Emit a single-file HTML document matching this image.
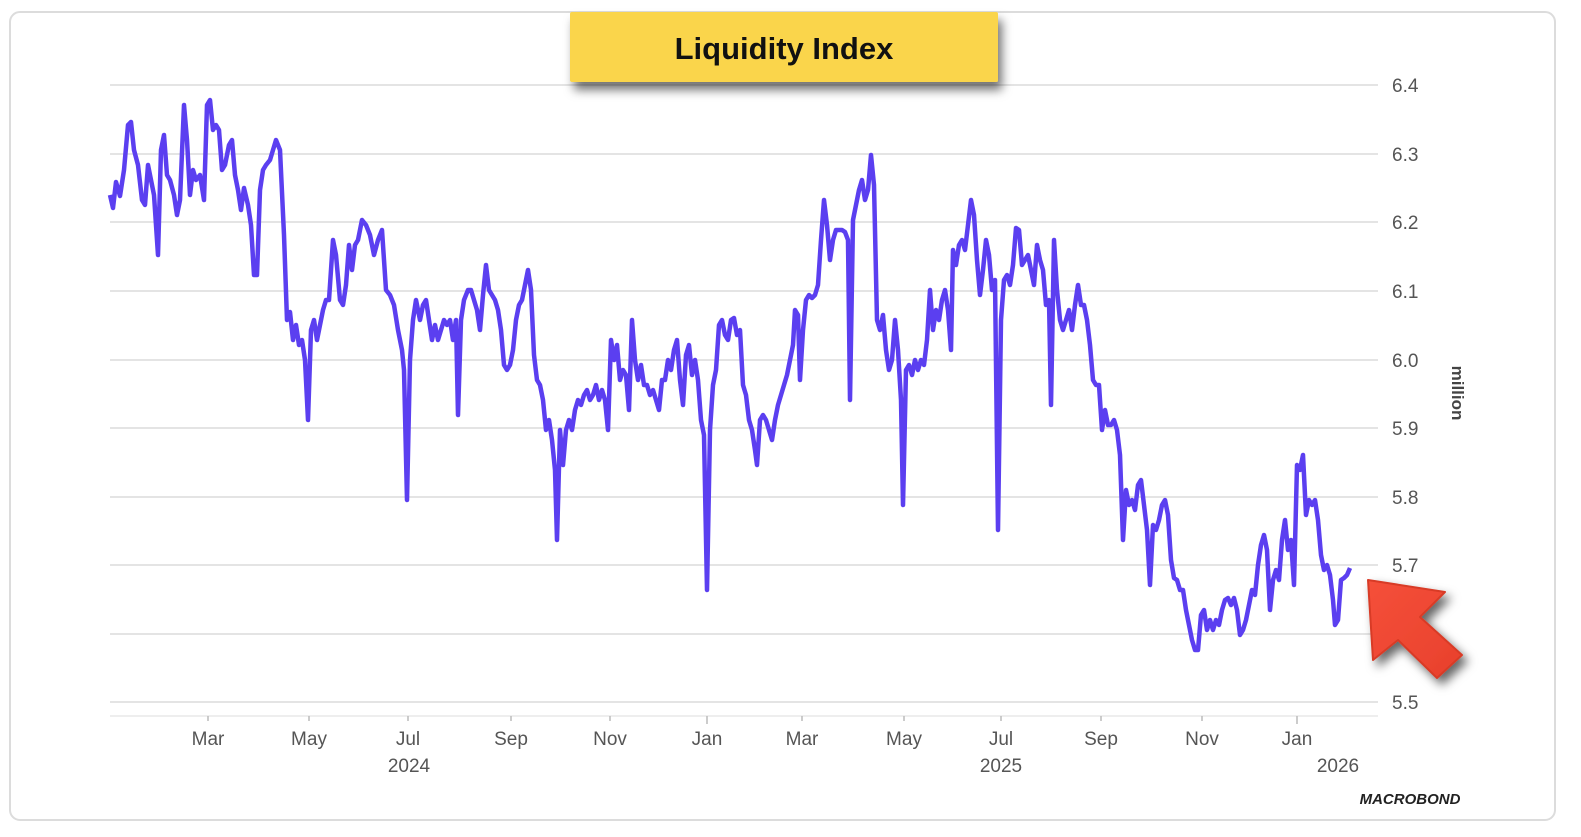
<!DOCTYPE html>
<html><head><meta charset="utf-8"><style>
html,body{margin:0;padding:0;background:#fff;width:1581px;height:837px;overflow:hidden;font-family:"Liberation Sans",sans-serif}
</style></head><body>
<svg width="1581" height="837" viewBox="0 0 1581 837" xmlns="http://www.w3.org/2000/svg">
<defs>
<filter id="sh" x="-20%" y="-20%" width="150%" height="180%"><feDropShadow dx="4" dy="8" stdDeviation="5" flood-color="#000" flood-opacity="0.55"/></filter>
<filter id="sh2" x="-30%" y="-30%" width="170%" height="170%"><feDropShadow dx="5" dy="6" stdDeviation="5" flood-color="#000" flood-opacity="0.6"/></filter>
<linearGradient id="ag" x1="0" y1="0" x2="1" y2="1"><stop offset="0" stop-color="#f5503a"/><stop offset="1" stop-color="#e8402c"/></linearGradient>
</defs>
<rect x="10" y="12" width="1545" height="808" rx="10" fill="#fff" stroke="#dcdcdc" stroke-width="2"/>
<g stroke="#e4e4e4" stroke-width="2">
<line x1="110" y1="85" x2="1378" y2="85"/><line x1="110" y1="154" x2="1378" y2="154"/><line x1="110" y1="222" x2="1378" y2="222"/><line x1="110" y1="291" x2="1378" y2="291"/><line x1="110" y1="360" x2="1378" y2="360"/><line x1="110" y1="428" x2="1378" y2="428"/><line x1="110" y1="497" x2="1378" y2="497"/><line x1="110" y1="565" x2="1378" y2="565"/><line x1="110" y1="634" x2="1378" y2="634"/><line x1="110" y1="702" x2="1378" y2="702"/>
<line x1="110" y1="716" x2="1378" y2="716" stroke="#eee"/>
</g>
<g stroke="#bbb" stroke-width="1.5">
<line x1="208" y1="716" x2="208" y2="721"/><line x1="309" y1="716" x2="309" y2="721"/><line x1="408" y1="716" x2="408" y2="721"/><line x1="511" y1="716" x2="511" y2="721"/><line x1="610" y1="716" x2="610" y2="721"/><line x1="707" y1="716" x2="707" y2="724"/><line x1="802" y1="716" x2="802" y2="721"/><line x1="904" y1="716" x2="904" y2="721"/><line x1="1001" y1="716" x2="1001" y2="721"/><line x1="1101" y1="716" x2="1101" y2="721"/><line x1="1202" y1="716" x2="1202" y2="721"/><line x1="1297" y1="716" x2="1297" y2="724"/>
</g>
<g fill="#555" font-size="19" font-family="Liberation Sans, sans-serif">
<text x="1392" y="92">6.4</text><text x="1392" y="161">6.3</text><text x="1392" y="229">6.2</text><text x="1392" y="298">6.1</text><text x="1392" y="367">6.0</text><text x="1392" y="435">5.9</text><text x="1392" y="504">5.8</text><text x="1392" y="572">5.7</text><text x="1392" y="709">5.5</text>
</g>
<g fill="#555" font-size="19" text-anchor="middle">
<text x="208" y="745">Mar</text><text x="309" y="745">May</text><text x="408" y="745">Jul</text><text x="511" y="745">Sep</text><text x="610" y="745">Nov</text><text x="707" y="745">Jan</text><text x="802" y="745">Mar</text><text x="904" y="745">May</text><text x="1001" y="745">Jul</text><text x="1101" y="745">Sep</text><text x="1202" y="745">Nov</text><text x="1297" y="745">Jan</text>
<text x="409" y="772">2024</text><text x="1001" y="772">2025</text><text x="1338" y="772">2026</text>
</g>
<text transform="translate(1452,393) rotate(90)" text-anchor="middle" fill="#444" font-size="17" font-weight="bold">million</text>
<text x="1410" y="804" text-anchor="middle" fill="#222" font-size="15" font-weight="bold" font-style="italic">MACROBOND</text>
<polyline fill="none" stroke="#5b3ff0" stroke-width="4.5" stroke-linejoin="round" points="110,195 113,208 116,182 120,196 124,170 128,125 131,122 134,150 138,165 142,200 145,205 148,165 151,180 154,195 158,255 161,150 164,135 167,175 170,180 174,195 177,215 180,200 184,105 187,140 190,195 193,170 196,180 200,175 204,200 207,105 210,100 213,130 216,125 219,130 222,170 225,165 229,145 232,140 235,175 238,190 241,210 244,188 248,205 251,225 254,275 257,275 260,190 263,170 266,165 270,160 273,150 276,140 280,150 284,235 287,320 290,312 293,340 296,325 299,345 302,340 305,360 308,420 311,330 314,320 317,340 320,325 323,310 326,300 329,300 333,240 336,255 340,300 343,305 346,285 349,245 352,270 355,245 358,240 362,220 366,225 370,235 374,255 378,240 382,230 386,290 390,295 394,305 398,330 402,350 404,370 407,500 410,360 413,320 416,300 420,320 423,305 426,300 429,320 432,340 435,325 438,340 441,330 444,320 447,325 450,320 453,340 456,320 458,415 461,320 464,300 468,290 471,290 474,300 477,310 480,330 483,295 486,265 489,290 492,295 495,300 498,310 501,330 504,365 507,370 510,365 513,350 516,320 519,305 522,300 525,285 528,270 531,290 534,355 537,380 540,385 543,400 546,430 549,420 552,440 555,470 557,540 560,430 563,465 566,430 569,420 572,430 575,410 578,400 581,405 584,395 587,390 590,400 593,395 596,385 599,400 602,390 605,400 608,430 611,340 614,360 617,345 620,380 623,370 626,375 629,410 632,320 635,360 638,380 641,365 644,385 647,385 650,395 653,390 656,400 659,410 662,380 665,380 668,360 671,370 674,350 677,340 680,380 683,405 686,355 689,345 692,375 695,360 698,380 701,420 704,435 707,590 710,430 713,385 716,370 719,325 722,320 725,335 728,340 731,320 734,318 737,335 740,330 743,385 746,395 749,420 752,430 755,450 757,465 760,420 763,415 766,420 769,430 772,440 775,420 778,405 781,395 784,385 787,375 790,360 793,345 795,310 798,315 800,380 803,330 806,300 809,295 812,298 815,295 818,285 821,240 824,200 827,225 830,260 833,240 836,230 839,230 842,230 845,232 848,240 850,400 853,220 856,205 859,190 862,180 865,200 868,190 871,155 874,185 877,320 880,330 883,315 886,350 889,370 892,360 895,320 898,350 901,400 903,505 906,370 909,365 912,375 915,360 918,370 921,360 924,365 927,340 930,290 933,330 936,310 939,320 942,300 945,290 948,310 951,350 953,250 956,265 959,245 962,240 965,250 968,225 971,200 974,215 977,260 980,295 983,270 986,240 989,255 992,290 995,280 998,530 1001,320 1004,280 1007,275 1010,285 1013,265 1016,228 1019,230 1022,265 1025,260 1028,255 1031,270 1034,285 1037,245 1040,260 1043,270 1046,305 1049,300 1051,405 1054,240 1057,290 1060,320 1063,330 1066,320 1069,310 1072,330 1075,305 1078,285 1081,305 1084,305 1087,320 1090,345 1093,380 1096,385 1099,385 1102,430 1105,410 1108,425 1111,425 1114,420 1117,430 1120,455 1123,540 1126,490 1129,505 1132,500 1135,510 1138,485 1141,480 1144,505 1147,530 1150,585 1153,525 1156,530 1159,520 1162,505 1165,500 1168,515 1171,560 1174,578 1177,580 1180,590 1183,590 1186,610 1189,625 1192,640 1195,650 1198,650 1201,615 1204,610 1207,630 1210,620 1213,630 1216,620 1219,625 1222,610 1225,600 1228,598 1231,605 1234,598 1237,610 1240,635 1243,630 1246,620 1249,605 1252,590 1255,595 1258,565 1261,545 1264,535 1267,550 1270,610 1273,580 1276,570 1279,580 1282,540 1285,520 1288,550 1291,540 1294,585 1297,465 1300,470 1303,455 1306,515 1309,500 1312,505 1315,500 1318,520 1321,555 1324,570 1327,565 1330,575 1333,600 1335,625 1338,620 1341,580 1344,578 1347,575 1350,568"/>
<polygon filter="url(#sh2)" fill="url(#ag)" stroke="#d83a26" stroke-width="2" stroke-linejoin="round" points="1368,580 1445,592 1420,617 1462,655 1437,678 1398,640 1373,660"/>
<rect x="570" y="12" width="428" height="70" rx="2" fill="#fad54b" filter="url(#sh)"/>
<text x="784" y="59" text-anchor="middle" fill="#111" font-size="31" font-weight="bold">Liquidity Index</text>
</svg>
</body></html>
